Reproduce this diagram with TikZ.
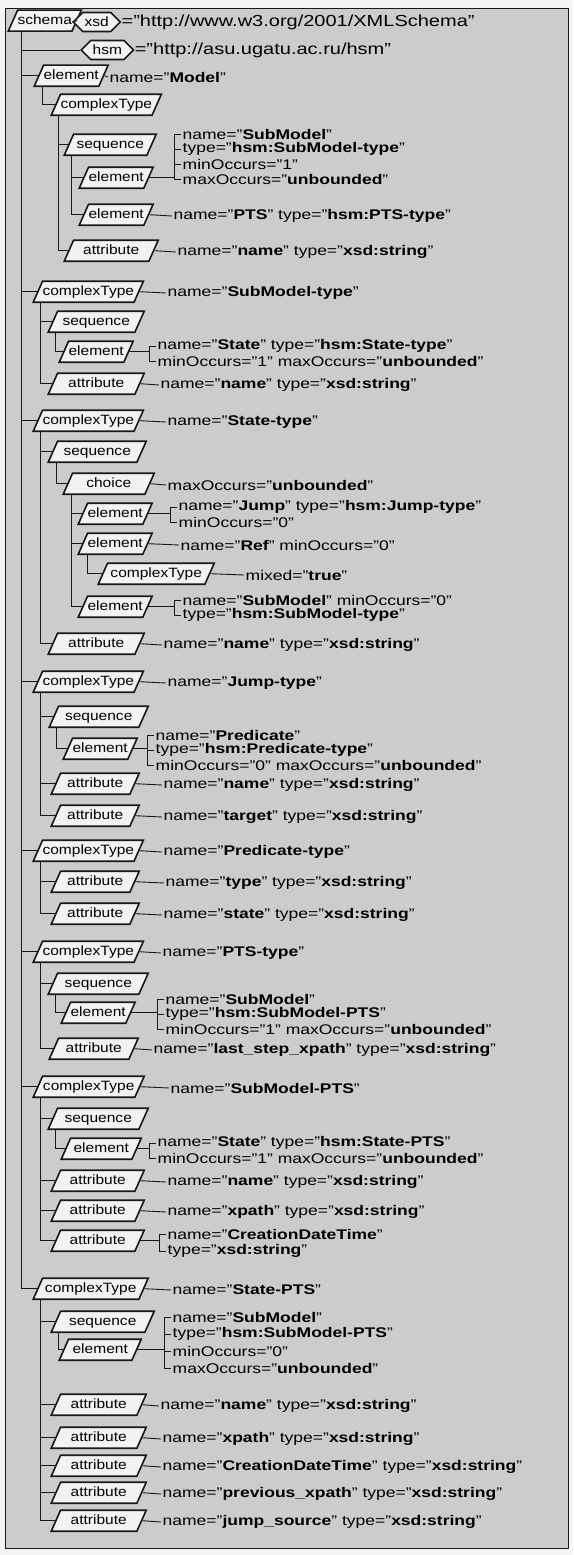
\documentclass[tikz,border=0pt]{standalone}
\usepackage{fontspec}
\setmainfont[FakeStretch=1.25]{Liberation Sans}
\newfontfamily\boxfont[FakeStretch=1.15]{Liberation Sans}
\usetikzlibrary{shapes.geometric,shapes.symbols,calc}
\definecolor{bggray}{RGB}{204,204,204}
\definecolor{boxfill}{RGB}{242,242,242}
\definecolor{linegray}{RGB}{25,25,25}
\newcommand{\xval}[1]{"\textbf{#1}"}

\begin{document}
\begin{tikzpicture}[x=1pt, y=-1pt,
    xbox/.style={trapezium, trapezium left angle=66, trapezium right angle=114,
        trapezium stretches body, draw=linegray, line width=1.6pt, fill=boxfill,
        font=\boxfont\fontsize{13.5}{15}\selectfont, inner xsep=0pt, inner ysep=4pt,
        text height=10pt, text depth=3pt, anchor=bottom left corner},
    hexbox/.style={signal, signal to=west and east, draw=linegray, line width=1.6pt,
        fill=boxfill, font=\boxfont\fontsize{13.5}{15}\selectfont, inner xsep=2pt, inner ysep=1pt,
        minimum height=19pt, minimum width=38pt, anchor=west},
    lbl/.style={anchor=west, inner sep=1.5pt, font=\fontsize{14}{15}\selectfont},
    toplbl/.style={anchor=west, inner sep=0pt, font=\fontsize{16}{17}\selectfont},
    conn/.style={draw=linegray, line width=0.9pt}]

    \useasboundingbox (0,0) rectangle (573,1555);
    \fill[white!92!gray] (0,0) rectangle (573,1555);
    \filldraw[fill=bggray, draw=linegray, line width=0.7pt] (5,8) rectangle (568,1548);

    % schema and namespaces
    \node[xbox, minimum width=60pt] (schema) at (7,32) {schema};
    \node[hexbox] (xsd) at (72,22) {xsd};
    \node[toplbl] (xsdval) at (xsd.east) {="http://www.w3.org/2001/XMLSchema"};
    \node[hexbox] (hsm) at (80,50) {hsm};
    \node[toplbl] (hsmval) at (hsm.east) {="http://asu.ugatu.ac.ru/hsm"};

    % element Model
    \node[xbox] (elModel) at (33,87) {element};
    \node[lbl] (lModel) at (108,77) {name=\xval{Model}};
    \node[xbox] (ctModel) at (50,116) {complexType};
    \node[xbox, minimum width=92pt] (seq1) at (63,156) {sequence};
    \node[xbox, minimum width=72pt] (el1) at (78,189) {element};
    \node[lbl] (l1a) at (181,134) {name=\xval{SubModel}};
    \node[lbl] (l1b) at (181,149) {type=\xval{hsm:SubModel-type}};
    \node[lbl] (l1c) at (181,164) {minOccurs="1"};
    \node[lbl] (l1d) at (181,179) {maxOccurs=\xval{unbounded}};
    \node[xbox, minimum width=72pt] (elPTS) at (78,226) {element};
    \node[lbl] (lPTS) at (172,216) {name=\xval{PTS} type=\xval{hsm:PTS-type}};
    \node[xbox, minimum width=94pt] (attr1) at (63,262) {attribute};
    \node[lbl] (lattr1) at (176,252) {name=\xval{name} type=\xval{xsd:string}};

    % complexType SubModel-type
    \node[xbox, minimum width=105pt] (ct2) at (32,303) {complexType};
    \node[lbl] (lct2) at (166,293) {name=\xval{SubModel-type}};
    \node[xbox, minimum width=96pt] (seq2) at (47,333) {sequence};
    \node[xbox, minimum width=72pt] (el2) at (58,363) {element};
    \node[lbl] (l2a) at (156,346) {name=\xval{State} type=\xval{hsm:State-type}};
    \node[lbl] (l2b) at (156,361) {minOccurs="1" maxOccurs=\xval{unbounded}};
    \node[xbox, minimum width=96pt] (attr2) at (47,395) {attribute};
    \node[lbl] (lattr2) at (159,385) {name=\xval{name} type=\xval{xsd:string}};

    % complexType State-type
    \node[xbox, minimum width=105pt] (ct3) at (32,432) {complexType};
    \node[lbl] (lct3) at (166,422) {name=\xval{State-type}};
    \node[xbox, minimum width=98pt] (seq3) at (47,463) {sequence};
    \node[xbox, minimum width=91pt] (choice) at (62,495) {choice};
    \node[lbl] (lchoice) at (166,485) {maxOccurs=\xval{unbounded}};
    \node[xbox, minimum width=73pt] (elJump) at (77,525) {element};
    \node[lbl] (lJa) at (177,507) {name=\xval{Jump} type=\xval{hsm:Jump-type}};
    \node[lbl] (lJb) at (177,522) {minOccurs="0"};
    \node[xbox, minimum width=73pt] (elRef) at (77,555) {element};
    \node[lbl] (lRef) at (179,545) {name=\xval{Ref} minOccurs="0"};
    \node[xbox, minimum width=116pt] (ctMixed) at (97,585) {complexType};
    \node[lbl] (lMixed) at (244,575) {mixed=\xval{true}};
    \node[xbox, minimum width=73pt] (elSub) at (77,618) {element};
    \node[lbl] (lSa) at (181,600) {name=\xval{SubModel} minOccurs="0"};
    \node[lbl] (lSb) at (181,615) {type=\xval{hsm:SubModel-type}};
    \node[xbox, minimum width=96pt] (attr3) at (47,655) {attribute};
    \node[lbl] (lattr3) at (162,645) {name=\xval{name} type=\xval{xsd:string}};

    % complexType Jump-type
    \node[xbox, minimum width=106pt] (ct4) at (32,693) {complexType};
    \node[lbl] (lct4) at (166,683) {name=\xval{Jump-type}};
    \node[xbox, minimum width=99pt] (seq4) at (48,728) {sequence};
    \node[xbox, minimum width=71pt] (el4) at (62,760) {element};
    \node[lbl] (l4a) at (154,735) {name=\xval{Predicate}};
    \node[lbl] (l4b) at (154,750) {type=\xval{hsm:Predicate-type}};
    \node[lbl] (l4c) at (154,765) {minOccurs="0" maxOccurs=\xval{unbounded}};
    \node[xbox, minimum width=88pt] (attr4a) at (50,795) {attribute};
    \node[lbl] (lattr4a) at (162,785) {name=\xval{name} type=\xval{xsd:string}};
    \node[xbox, minimum width=88pt] (attr4b) at (50,827) {attribute};
    \node[lbl] (lattr4b) at (162,817) {name=\xval{target} type=\xval{xsd:string}};

    % complexType Predicate-type
    \node[xbox, minimum width=105pt] (ct5) at (32,862) {complexType};
    \node[lbl] (lct5) at (162,852) {name=\xval{Predicate-type}};
    \node[xbox, minimum width=88pt] (attr5a) at (50,893) {attribute};
    \node[lbl] (lattr5a) at (164,883) {name=\xval{type} type=\xval{xsd:string}};
    \node[xbox, minimum width=88pt] (attr5b) at (50,925) {attribute};
    \node[lbl] (lattr5b) at (162,915) {name=\xval{state} type=\xval{xsd:string}};

    % complexType PTS-type
    \node[xbox, minimum width=105pt] (ct6) at (32,963) {complexType};
    \node[lbl] (lct6) at (161,953) {name=\xval{PTS-type}};
    \node[xbox, minimum width=100pt] (seq6) at (47,995) {sequence};
    \node[xbox, minimum width=73pt] (el6) at (60,1024) {element};
    \node[lbl] (l6a) at (164,999) {name=\xval{SubModel}};
    \node[lbl] (l6b) at (164,1014) {type=\xval{hsm:SubModel-PTS}};
    \node[lbl] (l6c) at (164,1029) {minOccurs="1" maxOccurs=\xval{unbounded}};
    \node[xbox, minimum width=89pt] (attr6) at (48,1060) {attribute};
    \node[lbl] (lattr6) at (152,1050) {name=\xval{last\_step\_xpath} type=\xval{xsd:string}};

    % complexType SubModel-PTS
    \node[xbox, minimum width=111pt] (ct7) at (32,1098) {complexType};
    \node[lbl] (lct7) at (169,1088) {name=\xval{SubModel-PTS}};
    \node[xbox, minimum width=100pt] (seq7) at (47,1130) {sequence};
    \node[xbox, minimum width=80pt] (el7) at (60,1160) {element};
    \node[lbl] (l7a) at (156,1143) {name=\xval{State} type=\xval{hsm:State-PTS}};
    \node[lbl] (l7b) at (156,1158) {minOccurs="1" maxOccurs=\xval{unbounded}};
    \node[xbox, minimum width=93pt] (attr7a) at (50,1192) {attribute};
    \node[lbl] (lattr7a) at (166,1182) {name=\xval{name} type=\xval{xsd:string}};
    \node[xbox, minimum width=93pt] (attr7b) at (50,1222) {attribute};
    \node[lbl] (lattr7b) at (166,1212) {name=\xval{xpath} type=\xval{xsd:string}};
    \node[xbox, minimum width=93pt] (attr7c) at (50,1252) {attribute};
    \node[lbl] (l7ca) at (166,1234) {name=\xval{CreationDateTime}};
    \node[lbl] (l7cb) at (166,1251) {type=\xval{xsd:string}};

    % complexType State-PTS
    \node[xbox, minimum width=115pt] (ct8) at (32,1300) {complexType};
    \node[lbl] (lct8) at (171,1290) {name=\xval{State-PTS}};
    \node[xbox, minimum width=103pt] (seq8) at (50,1333) {sequence};
    \node[xbox, minimum width=82pt] (el8) at (58,1361) {element};
    \node[lbl] (l8a) at (171,1317) {name=\xval{SubModel}};
    \node[lbl] (l8b) at (171,1334) {type=\xval{hsm:SubModel-PTS}};
    \node[lbl] (l8c) at (171,1351) {minOccurs="0"};
    \node[lbl] (l8d) at (171,1368) {maxOccurs=\xval{unbounded}};
    \node[xbox, minimum width=95pt] (attr8a) at (50,1416) {attribute};
    \node[lbl] (lattr8a) at (159,1406) {name=\xval{name} type=\xval{xsd:string}};
    \node[xbox, minimum width=95pt] (attr8b) at (50,1449) {attribute};
    \node[lbl] (lattr8b) at (161,1439) {name=\xval{xpath} type=\xval{xsd:string}};
    \node[xbox, minimum width=95pt] (attr8c) at (50,1477) {attribute};
    \node[lbl] (lattr8c) at (161,1467) {name=\xval{CreationDateTime} type=\xval{xsd:string}};
    \node[xbox, minimum width=95pt] (attr8d) at (50,1504) {attribute};
    \node[lbl] (lattr8d) at (161,1494) {name=\xval{previous\_xpath} type=\xval{xsd:string}};
    \node[xbox, minimum width=95pt] (attr8e) at (50,1532) {attribute};
    \node[lbl] (lattr8e) at (161,1522) {name=\xval{jump\_source} type=\xval{xsd:string}};

    % tree lines
    \draw[conn] (schema.east) -- (xsd.west);
    \draw[conn] ([xshift=14pt]schema.bottom left corner) |- (hsm.west);
    \draw[conn] ([xshift=14pt]schema.bottom left corner) |- (elModel.west);
    \draw[conn] ([xshift=14pt]schema.bottom left corner) |- (ct2.west);
    \draw[conn] ([xshift=14pt]schema.bottom left corner) |- (ct3.west);
    \draw[conn] ([xshift=14pt]schema.bottom left corner) |- (ct4.west);
    \draw[conn] ([xshift=14pt]schema.bottom left corner) |- (ct5.west);
    \draw[conn] ([xshift=14pt]schema.bottom left corner) |- (ct6.west);
    \draw[conn] ([xshift=14pt]schema.bottom left corner) |- (ct7.west);
    \draw[conn] ([xshift=14pt]schema.bottom left corner) |- (ct8.west);

    \draw[conn] ([xshift=9pt]elModel.bottom left corner) |- (ctModel.west);
    \draw[conn] ([xshift=8pt]ctModel.bottom left corner) |- (seq1.west);
    \draw[conn] ([xshift=8pt]ctModel.bottom left corner) |- (attr1.west);
    \draw[conn] ([xshift=8pt]seq1.bottom left corner) |- (el1.west);
    \draw[conn] ([xshift=8pt]seq1.bottom left corner) |- (elPTS.west);

    \draw[conn] ([xshift=8pt]ct2.bottom left corner) |- (seq2.west);
    \draw[conn] ([xshift=8pt]ct2.bottom left corner) |- (attr2.west);
    \draw[conn] ([xshift=8pt]seq2.bottom left corner) |- (el2.west);

    \draw[conn] ([xshift=8pt]ct3.bottom left corner) |- (seq3.west);
    \draw[conn] ([xshift=8pt]ct3.bottom left corner) |- (attr3.west);
    \draw[conn] ([xshift=9pt]seq3.bottom left corner) |- (choice.west);
    \draw[conn] ([xshift=9pt]choice.bottom left corner) |- (elJump.west);
    \draw[conn] ([xshift=9pt]choice.bottom left corner) |- (elRef.west);
    \draw[conn] ([xshift=9pt]choice.bottom left corner) |- (elSub.west);
    \draw[conn] ([xshift=10pt]elRef.bottom left corner) |- (ctMixed.west);

    \draw[conn] ([xshift=8pt]ct4.bottom left corner) |- (seq4.west);
    \draw[conn] ([xshift=8pt]ct4.bottom left corner) |- (attr4a.west);
    \draw[conn] ([xshift=8pt]ct4.bottom left corner) |- (attr4b.west);
    \draw[conn] ([xshift=8pt]seq4.bottom left corner) |- (el4.west);

    \draw[conn] ([xshift=8pt]ct5.bottom left corner) |- (attr5a.west);
    \draw[conn] ([xshift=8pt]ct5.bottom left corner) |- (attr5b.west);

    \draw[conn] ([xshift=8pt]ct6.bottom left corner) |- (seq6.west);
    \draw[conn] ([xshift=8pt]ct6.bottom left corner) |- (attr6.west);
    \draw[conn] ([xshift=8pt]seq6.bottom left corner) |- (el6.west);

    \draw[conn] ([xshift=8pt]ct7.bottom left corner) |- (seq7.west);
    \draw[conn] ([xshift=8pt]ct7.bottom left corner) |- (attr7a.west);
    \draw[conn] ([xshift=8pt]ct7.bottom left corner) |- (attr7b.west);
    \draw[conn] ([xshift=8pt]ct7.bottom left corner) |- (attr7c.west);
    \draw[conn] ([xshift=8pt]seq7.bottom left corner) |- (el7.west);

    \draw[conn] ([xshift=8pt]ct8.bottom left corner) |- (seq8.west);
    \draw[conn] ([xshift=8pt]ct8.bottom left corner) |- (attr8a.west);
    \draw[conn] ([xshift=8pt]ct8.bottom left corner) |- (attr8b.west);
    \draw[conn] ([xshift=8pt]ct8.bottom left corner) |- (attr8c.west);
    \draw[conn] ([xshift=8pt]ct8.bottom left corner) |- (attr8d.west);
    \draw[conn] ([xshift=8pt]ct8.bottom left corner) |- (attr8e.west);
    \draw[conn] ([xshift=8pt]seq8.bottom left corner) |- (el8.west);

    % single labels
    \draw[conn] (elModel.east) -- (lModel.west);
    \draw[conn] (elPTS.east) -- (lPTS.west);
    \draw[conn] (attr1.east) -- (lattr1.west);
    \draw[conn] (ct2.east) -- (lct2.west);
    \draw[conn] (attr2.east) -- (lattr2.west);
    \draw[conn] (ct3.east) -- (lct3.west);
    \draw[conn] (choice.east) -- (lchoice.west);
    \draw[conn] (elRef.east) -- (lRef.west);
    \draw[conn] (ctMixed.east) -- (lMixed.west);
    \draw[conn] (attr3.east) -- (lattr3.west);
    \draw[conn] (ct4.east) -- (lct4.west);
    \draw[conn] (attr4a.east) -- (lattr4a.west);
    \draw[conn] (attr4b.east) -- (lattr4b.west);
    \draw[conn] (ct5.east) -- (lct5.west);
    \draw[conn] (attr5a.east) -- (lattr5a.west);
    \draw[conn] (attr5b.east) -- (lattr5b.west);
    \draw[conn] (ct6.east) -- (lct6.west);
    \draw[conn] (attr6.east) -- (lattr6.west);
    \draw[conn] (ct7.east) -- (lct7.west);
    \draw[conn] (attr7a.east) -- (lattr7a.west);
    \draw[conn] (attr7b.east) -- (lattr7b.west);
    \draw[conn] (ct8.east) -- (lct8.west);
    \draw[conn] (attr8a.east) -- (lattr8a.west);
    \draw[conn] (attr8b.east) -- (lattr8b.west);
    \draw[conn] (attr8c.east) -- (lattr8c.west);
    \draw[conn] (attr8d.east) -- (lattr8d.west);
    \draw[conn] (attr8e.east) -- (lattr8e.west);

    % bracketed labels
    \draw[conn] (el1.east) -- ($(l1a.west |- el1.east)+(-7,0)$);
    \draw[conn] (l1a.west) -| ([xshift=-7pt]l1d.west) -- (l1d.west);
    \draw[conn] (l1b.west) -- ++(-7,0);
    \draw[conn] (l1c.west) -- ++(-7,0);

    \draw[conn] (el2.east) -- ($(l2a.west |- el2.east)+(-7,0)$);
    \draw[conn] (l2a.west) -| ([xshift=-7pt]l2b.west) -- (l2b.west);

    \draw[conn] (elJump.east) -- ($(lJa.west |- elJump.east)+(-7,0)$);
    \draw[conn] (lJa.west) -| ([xshift=-7pt]lJb.west) -- (lJb.west);

    \draw[conn] (elSub.east) -- ($(lSa.west |- elSub.east)+(-7,0)$);
    \draw[conn] (lSa.west) -| ([xshift=-7pt]lSb.west) -- (lSb.west);

    \draw[conn] (el4.east) -- ($(l4a.west |- el4.east)+(-7,0)$);
    \draw[conn] (l4a.west) -| ([xshift=-7pt]l4c.west) -- (l4c.west);
    \draw[conn] (l4b.west) -- ++(-7,0);

    \draw[conn] (el6.east) -- ($(l6a.west |- el6.east)+(-7,0)$);
    \draw[conn] (l6a.west) -| ([xshift=-7pt]l6c.west) -- (l6c.west);
    \draw[conn] (l6b.west) -- ++(-7,0);

    \draw[conn] (el7.east) -- ($(l7a.west |- el7.east)+(-7,0)$);
    \draw[conn] (l7a.west) -| ([xshift=-7pt]l7b.west) -- (l7b.west);

    \draw[conn] (attr7c.east) -- ($(l7ca.west |- attr7c.east)+(-7,0)$);
    \draw[conn] (l7ca.west) -| ([xshift=-7pt]l7cb.west) -- (l7cb.west);

    \draw[conn] (el8.east) -- ($(l8a.west |- el8.east)+(-7,0)$);
    \draw[conn] (l8a.west) -| ([xshift=-7pt]l8d.west) -- (l8d.west);
    \draw[conn] (l8b.west) -- ++(-7,0);
    \draw[conn] (l8c.west) -- ++(-7,0);
\end{tikzpicture}
\end{document}
